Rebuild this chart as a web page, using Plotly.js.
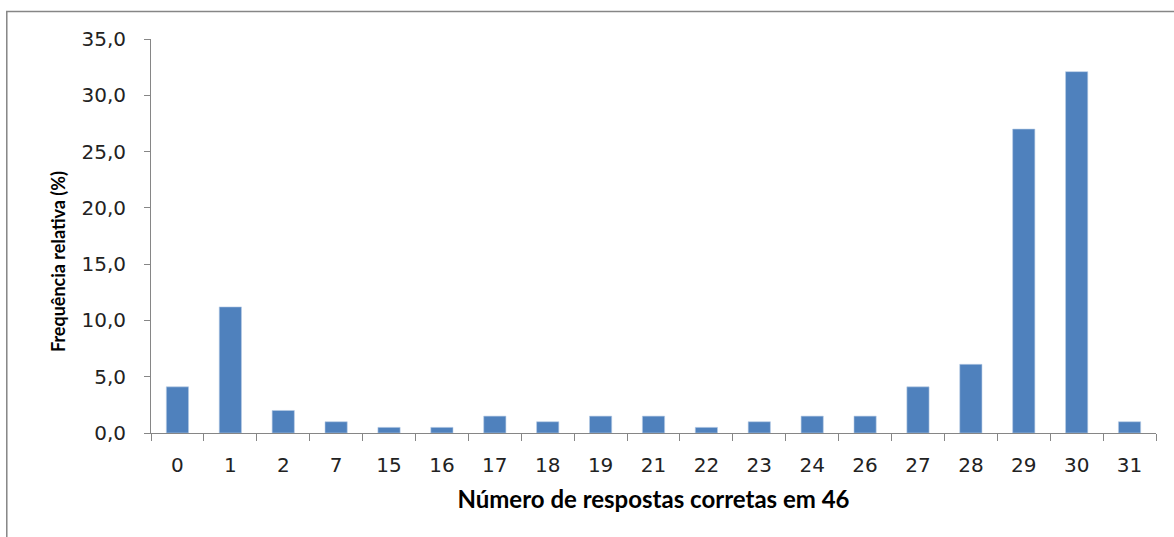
<!DOCTYPE html>
<html><head><meta charset="utf-8">
<script src="https://cdn.plot.ly/plotly-3.0.1.min.js"></script>
<style>html,body{margin:0;padding:0;background:#fff}#c{width:1174px;height:537px}</style>
</head><body><div id="c"></div>
<script>
const categories = ["0","1","2","7","15","16","17","18","19","21","22","23","24","26","27","28","29","30","31"];
const freq = [4.1, 11.2, 2.0, 1.0, 0.5, 0.5, 1.5, 1.0, 1.5, 1.5, 0.5, 1.0, 1.5, 1.5, 4.1, 6.1, 27.0, 32.1, 1.0];
const yTicks = [0, 5, 10, 15, 20, 25, 30, 35];
const xTitle = 'Número de respostas corretas em 46';
const yTitle = 'Frequência relativa (%)';

Plotly.newPlot('c', [{
  type: 'bar', x: categories, y: freq,
  marker: {color: '#4F81BD', line: {color: '#B9CDE5', width: 0.6}},
  hoverinfo: 'x+y'
}], {
  width: 1174, height: 537,
  margin: {l: 151, r: 18, t: 39, b: 104},
  paper_bgcolor: '#fff', plot_bgcolor: '#fff',
  separators: ',.',
  bargap: 0.58,
  showlegend: false,
  xaxis: {
    type: 'category', tickson: 'boundaries',
    ticks: 'outside', ticklen: 7, tickcolor: '#868686',
    showline: true, linecolor: '#868686', linewidth: 1,
    showgrid: false, zeroline: false,
    ticklabelstandoff: 14,
    tickfont: {family: 'DejaVu Sans', size: 20, color: '#222'},
    title: {text: xTitle, font: {family: 'Lato', size: 24, color: '#000', weight: 'bold'}, standoff: 15}
  },
  yaxis: {
    range: [0, 35], tickvals: yTicks, tickformat: '.1f',
    ticks: 'outside', ticklen: 6, tickcolor: '#868686',
    showline: true, linecolor: '#868686', linewidth: 1,
    showgrid: false, zeroline: false,
    ticklabelstandoff: 14,
    tickfont: {family: 'DejaVu Sans', size: 20, color: '#222'}
  },
  annotations: [{text: yTitle, textangle: -90, xref: 'paper', yref: 'paper', x: -0.0925, y: 0.434,
    xanchor: 'center', yanchor: 'middle', showarrow: false,
    font: {family: 'Lato', size: 18, color: '#000', weight: 'bold'}}],
  shapes: [{type: 'rect', xref: 'paper', yref: 'paper', x0: -0.1435, x1: 1.1, y0: -0.5, y1: 1.07,
    line: {color: '#868686', width: 1.5}, fillcolor: 'rgba(0,0,0,0)', layer: 'below'}]
}, {displayModeBar: false});
</script></body></html>
